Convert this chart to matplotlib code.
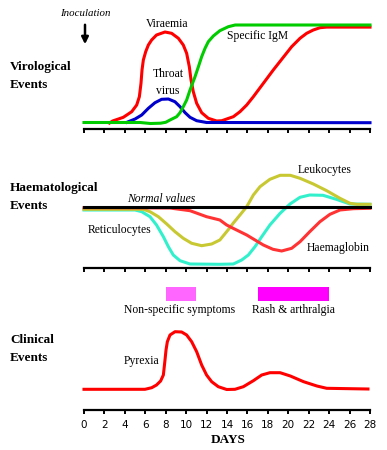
import matplotlib
matplotlib.use("Agg")
import matplotlib.pyplot as plt

# ---- data (heights, arbitrary units above each axis line)
vir_days = [2.5, 2.8, 3.85, 4.67, 5.16, 5.42, 5.58, 5.68, 5.81, 6.04, 6.3, 6.62, 7.1,
            7.93, 8.58, 9.24, 9.72, 10.05, 10.31, 10.48, 10.7, 11.03, 11.52, 12.17,
            12.99, 13.5, 13.97, 14.62, 15.27, 15.93, 16.58, 17.56, 18.53, 19.51,
            20.33, 21.15, 21.8, 22.45, 23.1, 23.76, 28.0]
viraemia = [5.5, 7.5, 11.2, 16.8, 23.5, 31.8, 45.2, 58.5, 68.5, 76.8, 83.5, 88.5, 93.5,
            96.5, 95.2, 90.2, 83.5, 75.2, 61.8, 48.5, 36.8, 25.2, 15.8, 10.2,
            7.5, 7.8, 9.5, 11.8, 16.8, 23.5, 31.8, 45.2, 58.5, 71.2,
            81.8, 90.2, 95.2, 98.5, 100.8, 101.4, 101.4]

throat_days = [4.2, 5.0, 5.65, 6.3, 6.95, 7.6, 8.26, 8.9, 9.4, 9.9, 10.38, 11.03, 12.0, 28.0]
throat = [6.2, 9.5, 13.5, 20.2, 25.8, 29.2, 29.5, 26.8, 21.8, 15.8, 11.2, 7.8, 6.0, 5.8]

igm_days = [0, 5.5, 6.5, 7.5, 8.0, 8.42, 9.07, 9.4, 9.72, 10.05, 10.38, 10.87, 11.2,
            11.52, 11.85, 12.17, 12.66, 13.3, 14.13, 14.8, 28.0]
igm = [6, 6, 5, 5.3, 6.2, 8.5, 11.8, 15.8, 21.8, 28.5, 38.5, 51.8, 61.8,
       71.8, 80.2, 86.8, 92.5, 97.8, 101.8, 103.5, 103.5]

normal_days = [0, 28]
normal = [61.6, 61.6]

retic_days = [0, 5.0, 5.65, 6.46, 7.1, 7.77, 8.26, 8.74, 9.4, 10.38, 13.3, 14.62, 15.44,
              16.09, 16.74, 17.4, 18.2, 19.2, 20.17, 21.15, 22.1, 23.4, 24.7, 26.04, 28.0]
retic = [58.3, 58.3, 56.6, 51.6, 43.3, 31.6, 21.6, 13.3, 7.6, 4.3, 4, 4.3, 8.3,
         13.3, 21.6, 31.6, 43.3, 55, 64.3, 71, 73.3, 73, 69, 64.3, 64]

leuko_days = [0, 5.81, 6.46, 7.28, 8.1, 8.91, 9.72, 10.54, 11.52, 12.5, 13.3, 14.1,
              14.6, 15.27, 15.93, 16.58, 17.23, 18.2, 19.2, 20.2, 21.15, 22.45, 23.76,
              25.06, 26.04, 26.7, 28.0]
leuko = [59, 59, 56.6, 51.6, 44.3, 36.6, 30, 25, 22.6, 24.3, 28.3, 38.3,
         45, 53.3, 61.6, 73.3, 81.6, 89, 93, 93, 90, 84.3, 77.6,
         70, 65, 64, 64]

hb_days = [0, 8.4, 10.38, 12.0, 13.3, 13.97, 14.6, 15.93, 17.56, 18.5, 19.35, 20.33,
           21.15, 22.1, 23.1, 24.08, 25.06, 26.37, 28.0]
hb = [60.6, 60.3, 57.6, 51.6, 48.3, 43.3, 40, 33.3, 23.3, 19, 17.3, 20,
      26.6, 36.6, 46.6, 54, 58.3, 59.6, 60]

pyr_days = [0, 5.97, 6.63, 7.1, 7.5, 7.77, 7.93, 8.03, 8.16, 8.42, 8.91, 9.56, 10.05,
            10.54, 11.03, 11.52, 12.0, 12.5, 13.15, 13.97, 14.78, 15.6, 16.58, 17.4,
            18.2, 19.2, 20.2, 21.5, 22.8, 23.76, 27.8]
pyrexia = [20.7, 20.7, 22.3, 25, 29, 35, 50, 60, 68.3, 75, 78.3, 78, 75,
           68.3, 58.3, 45, 35, 28.3, 23.3, 20.5, 20.7, 23.3, 29.3, 35,
           37.3, 37.3, 34, 28.3, 24, 21.7, 21]

symptom_labels = ["Non-specific symptoms", "Rash & arthralgia"]
symptom_start = [8, 17]
symptom_end = [11, 24]
symptom_colors = ["#ff66ff", "#ff00ff"]

day_ticks = list(range(0, 29, 2))

W, H = 387, 450
X0, X1 = 84, 370

plt.rcParams["font.family"] = ["Liberation Serif", "DejaVu Serif"]

fig = plt.figure(figsize=(W / 100, H / 100), dpi=100)
fig.patch.set_facecolor("white")


def add_panel(bottom_px, top_px, labels=False):
    ax = fig.add_axes([X0 / W, 1 - bottom_px / H, (X1 - X0) / W, (bottom_px - top_px) / H])
    ax.set_xlim(0, 28)
    ax.set_ylim(0, bottom_px - top_px)
    ax.patch.set_alpha(0)
    for side in ("left", "right", "top"):
        ax.spines[side].set_visible(False)
    ax.spines["bottom"].set_linewidth(1.6)
    ax.set_yticks([])
    ax.set_xticks(day_ticks)
    ax.tick_params(axis="x", direction="out", length=3, width=1.4,
                   labelbottom=labels, labelsize=7.5, pad=4.5)
    if labels:
        for t in ax.get_xticklabels():
            t.set_fontfamily("DejaVu Sans")
    return ax


def ftext(x, y, s, **kw):
    fig.text(x / W, 1 - y / H, s, va="center", **kw)


LW = 2.2

# ---- virological
ax1 = add_panel(128.5, 8)
ax1.plot(vir_days, viraemia, color="#ff0000", lw=LW, clip_on=False)
ax1.plot(throat_days, throat, color="#0000cc", lw=LW, clip_on=False)
ax1.plot(igm_days, igm, color="#00cc00", lw=LW, clip_on=False)

# ---- haematological
ax2 = add_panel(268.3, 150)
ax2.plot(retic_days, retic, color="#33f0cc", lw=LW, clip_on=False)
ax2.plot(leuko_days, leuko, color="#c8c832", lw=LW, clip_on=False)
ax2.plot(hb_days, hb, color="#ff3333", lw=LW, clip_on=False)
ax2.plot(normal_days, normal, color="black", lw=LW, clip_on=False)

# ---- clinical
ax3 = add_panel(410, 278, labels=True)
ax3.plot(pyr_days, pyrexia, color="#ff0000", lw=LW, clip_on=False)
for s, e, c in zip(symptom_start, symptom_end, symptom_colors):
    ax3.bar(s, 13.4, width=e - s, bottom=109.3, align="edge", color=c, linewidth=0)

# ---- texts
bold = dict(fontweight="bold", fontsize=9.5, ha="left")
ftext(10, 67, "Virological", **bold)
ftext(10, 85, "Events", **bold)
ftext(10, 188, "Haematological", **bold)
ftext(10, 206, "Events", **bold)
ftext(10, 340, "Clinical", **bold)
ftext(10, 358, "Events", **bold)

FS = 8.4
norm = dict(fontsize=FS, ha="left")
ftext(85, 14, "Inoculation", fontsize=7.8, style="italic", ha="center")
ftext(167, 24, "Viraemia", fontsize=FS, ha="center")
ftext(227, 36, "Specific IgM", **norm)
ftext(168, 74, "Throat", fontsize=FS, ha="center")
ftext(168, 91, "virus", fontsize=FS, ha="center")
ftext(161, 199, "Normal values", fontsize=FS, style="italic", ha="center")
ftext(88, 230, "Reticulocytes", **norm)
ftext(298, 170, "Leukocytes", **norm)
ftext(307, 248, "Haemaglobin", **norm)
ftext(180, 310, symptom_labels[0], fontsize=FS, ha="center")
ftext(294, 310, symptom_labels[1], fontsize=FS, ha="center")
ftext(124, 361, "Pyrexia", **norm)
ftext(228, 440, "DAYS", fontweight="bold", fontsize=9.5, ha="center")

ax1.annotate("", xy=(85 / W, 1 - 47 / H), xytext=(85 / W, 1 - 22 / H),
             xycoords="figure fraction", textcoords="figure fraction",
             arrowprops=dict(arrowstyle="-|>", lw=1.8, color="black", mutation_scale=10),
             annotation_clip=False)

fig.savefig("out.png", dpi=100, facecolor="white")
